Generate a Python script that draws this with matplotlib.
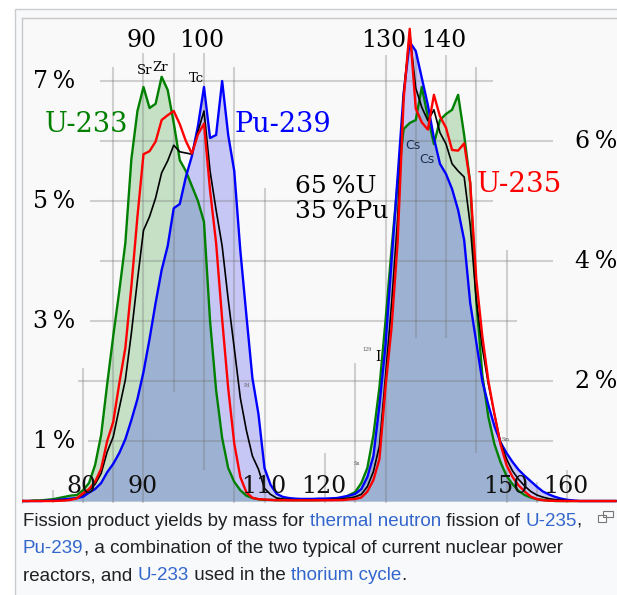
import numpy as np
import matplotlib.pyplot as plt
from matplotlib.patches import Rectangle

W, H = 617, 595

# mass number of the fission product
mass = np.arange(70, 169)

# yields in %
u233 = [0.0, 0.0, 0.01, 0.01, 0.02, 0.03, 0.05, 0.07, 0.09, 0.1,
        0.18, 0.3, 0.6, 1.1, 1.95, 2.75, 3.5, 4.3, 5.7, 6.5,
        6.9, 6.55, 6.62, 7.07, 6.85, 6.3, 5.68, 5.5, 5.25, 5.0,
        4.65, 3.0, 1.85, 1.05, 0.55, 0.32, 0.18, 0.09, 0.05, 0.03,
        0.02, 0.02, 0.015, 0.015, 0.015, 0.015, 0.015, 0.015, 0.015, 0.015,
        0.02, 0.02, 0.03, 0.05, 0.1, 0.15, 0.3, 0.55, 1.1, 1.9,
        3.0, 4.2, 5.3, 6.2, 6.3, 6.35, 6.9, 6.4, 5.95, 6.35,
        6.45, 6.52, 6.77, 6.1, 5.3, 3.35, 2.1, 1.4, 0.95, 0.65,
        0.42, 0.28, 0.17, 0.1, 0.06, 0.03, 0.02, 0.01, 0.0, 0.0,
        0.0, 0.0, 0.0, 0.0, 0.0, 0.0, 0.0, 0.0, 0.0]
u235 = [0.0, 0.0, 0.0, 0.0, 0.0, 0.001, 0.004, 0.008, 0.02, 0.045,
        0.13, 0.2, 0.32, 0.54, 1.0, 1.32, 1.96, 2.55, 3.58, 4.74,
        5.78, 5.83, 5.99, 6.35, 6.43, 6.5, 6.28, 6.0, 5.79, 6.11,
        6.29, 5.18, 4.3, 3.03, 1.88, 0.96, 0.4, 0.146, 0.054, 0.031,
        0.025, 0.018, 0.013, 0.014, 0.012, 0.011, 0.012, 0.012, 0.012, 0.013,
        0.013, 0.013, 0.015, 0.016, 0.027, 0.034, 0.059, 0.157, 0.35, 0.7,
        1.9, 2.89, 4.31, 6.7, 7.87, 6.54, 6.31, 6.19, 6.77, 6.41,
        6.22, 5.85, 5.84, 5.96, 5.3, 3.7, 2.75, 2.0, 1.45, 0.95,
        0.6, 0.4, 0.26, 0.16, 0.074, 0.033, 0.014, 0.006, 0.003, 0.001,
        0.0, 0.0, 0.0, 0.0, 0.0, 0.0, 0.0, 0.0, 0.0]
pu239 = [0.0, 0.0, 0.0, 0.0, 0.005, 0.01, 0.02, 0.03, 0.04, 0.05,
         0.07, 0.14, 0.2, 0.3, 0.48, 0.62, 0.8, 1.03, 1.35, 1.7,
         2.15, 2.7, 3.3, 3.85, 4.25, 4.88, 4.95, 5.4, 5.75, 6.25,
         6.9, 6.05, 6.1, 7.0, 6.1, 5.5, 4.18, 3.1, 2.05, 1.45,
         0.55, 0.27, 0.12, 0.07, 0.05, 0.04, 0.035, 0.035, 0.035, 0.04,
         0.04, 0.045, 0.05, 0.07, 0.09, 0.12, 0.2, 0.4, 0.75, 1.6,
         2.6, 4.0, 5.4, 6.8, 7.65, 7.5, 7.05, 6.6, 6.05, 5.62,
         5.45, 5.2, 4.85, 4.35, 3.3, 2.65, 2.0, 1.6, 1.25, 0.98,
         0.8, 0.65, 0.52, 0.42, 0.33, 0.24, 0.16, 0.11, 0.07, 0.04,
         0.02, 0.01, 0.0, 0.0, 0.0, 0.0, 0.0, 0.0, 0.0]
mix = [0.0, 0.0, 0.0, 0.0, 0.002, 0.004, 0.01, 0.016, 0.027, 0.047,
       0.11, 0.18, 0.28, 0.46, 0.82, 1.07, 1.55, 2.02, 2.8, 3.68,
       4.51, 4.74, 5.05, 5.47, 5.67, 5.93, 5.82, 5.8, 5.78, 6.16,
       6.5, 5.5, 4.85, 4.25, 3.36, 2.55, 1.72, 1.18, 0.75, 0.53,
       0.21, 0.11, 0.05, 0.035, 0.025, 0.02, 0.02, 0.02, 0.02, 0.02,
       0.02, 0.025, 0.03, 0.035, 0.05, 0.07, 0.11, 0.24, 0.49, 0.92,
       2.08, 3.28, 4.69, 6.8, 7.8, 6.88, 6.56, 6.34, 6.52, 6.14,
       5.95, 5.62, 5.5, 5.4, 4.6, 3.35, 2.55, 1.95, 1.45, 0.98,
       0.7, 0.5, 0.36, 0.25, 0.16, 0.1, 0.065, 0.04, 0.025, 0.015,
       0.007, 0.003, 0.0, 0.0, 0.0, 0.0, 0.0, 0.0, 0.0]

top_ticks = [90, 100, 130, 140]
bottom_ticks = [80, 90, 110, 120, 150, 160]
left_ticks = [1, 3, 5, 7]
right_ticks = [2, 4, 6]

SERIF = 'DejaVu Serif'
LINK = '#3366cc'
DARK = '#202122'


def fx(px):
    return px / W


def fy(py):
    return 1 - py / H


fig = plt.figure(figsize=(W / 100, H / 100), dpi=100)
fig.patch.set_facecolor('white')

# thumbnail box
fig.add_artist(Rectangle((fx(14.5), -0.02), 1.0, fy(9.5) + 0.02,
                         transform=fig.transFigure, facecolor='#f8f9fa',
                         edgecolor='#c8ccd1', lw=1.0, zorder=0))

ax = fig.add_axes([fx(22), fy(503), fx(617) - fx(22), fy(18) - fy(503)])
ax.set_xlim(69.92, 168.26)
ax.set_ylim(-0.033, 8.05)
ax.set_facecolor('#f9f9f9')
ax.set_xticks([])
ax.set_yticks([])
for side in ['right', 'bottom']:
    ax.spines[side].set_visible(False)
for side in ['left', 'top']:
    ax.spines[side].set_color('#c8c8c8')
    ax.spines[side].set_linewidth(1.0)

# fills: U-233 only, Pu-239 only, both
g = np.array(u233)
b = np.array(pu239)
fine = np.linspace(mass[0], mass[-1], 5000)
gi = np.interp(fine, mass, g)
bi = np.interp(fine, mass, b)
ax.fill_between(mass, 0, b, color='#c7c7f6', lw=0, zorder=1)
ax.fill_between(mass, 0, g, color='#c6e0c6', lw=0, zorder=1)
ax.fill_between(fine, 0, np.minimum(gi, bi), color='#9db2d2', lw=0, zorder=1)

# partial grid lines as in the original drawing
hgrid = [(7, 82.8, 147.8), (6, 82.8, 157.7), (5, 81.2, 147.8), (4, 82.8, 157.7),
         (3, 81.2, 151.7), (2, 79.2, 157.7), (1, 80.8, 157.7)]
vgrid = [(75, 0.18), (80, 2.22), (85, 7.23), (90, 7.47), (105, 7.23),
         (110, 5.22), (120, 0.8), (125, 2.3), (130, 7.43),
         (150, 4.18), (155, 0.32), (160, 0.52)]
vgrid_short = [(95, 7.47, 1.82), (100, 7.47, 0.52), (135, 7.43, 2.72),
               (140, 7.43, 2.72), (145, 7.23, 0.8)]
for y, x0, x1 in hgrid:
    ax.hlines(y, x0, x1, color='#707070', alpha=0.3, lw=1.5, zorder=2)
for x, y1 in vgrid:
    ax.vlines(x, -0.05, y1, color='#707070', alpha=0.3, lw=1.5, zorder=2)
for x, y1, y0 in vgrid_short:
    ax.vlines(x, y0, y1, color='#707070', alpha=0.3, lw=1.5, zorder=2)

# curves
ax.plot(mass, u233, color='#008000', lw=1.7, zorder=3)
ax.plot(mass, pu239, color='#0000ff', lw=1.7, zorder=3)
ax.plot(mass, mix, color='black', lw=1.2, zorder=3)
ax.plot(mass, u235, color='#ff0000', lw=1.7, zorder=3)

# axis numbers
for m in top_ticks:
    ax.text(m - 0.3, 7.67, str(m), ha='center', va='center', fontsize=17,
            family=SERIF, zorder=4)
for m in bottom_ticks:
    ax.text(m - 0.2, 0.25, str(m), ha='center', va='center', fontsize=17,
            family=SERIF, zorder=4, color='#111111')
for v in left_ticks:
    ax.text(78.7, v, f'{v}\u2009%', ha='right', va='center', fontsize=17,
            family=SERIF, zorder=4)
for v in right_ticks:
    ax.text(161.3, v, f'{v}\u2009%', ha='left', va='center', fontsize=17,
            family=SERIF, zorder=4)

# series names
ax.text(80.5, 6.28, 'U-233', color='#008000', ha='center', va='center',
        fontsize=19.5, family=SERIF, zorder=4)
ax.text(105.1, 6.27, 'Pu-239', color='#0000ff', ha='left', va='center',
        fontsize=19.5, family=SERIF, zorder=4)
ax.text(115.0, 5.25, '65\u2009%U', color='black', ha='left', va='center',
        fontsize=18, family=SERIF, zorder=4)
ax.text(115.0, 4.82, '35\u2009%Pu', color='black', ha='left', va='center',
        fontsize=18, family=SERIF, zorder=4)
ax.text(152.2, 5.28, 'U-235', color='#ff0000', ha='center', va='center',
        fontsize=20, family=SERIF, zorder=4)

# element marks
for x, y, s in [(90.25, 7.18, 'Sr'), (92.7, 7.23, 'Zr'), (98.7, 7.05, 'Tc')]:
    ax.text(x, y, s, ha='center', va='center', fontsize=9.5, family=SERIF,
            zorder=4)
for x, y in [(134.5, 5.92), (136.9, 5.7)]:
    ax.text(x, y, 'Cs', ha='center', va='center', fontsize=9,
            family='DejaVu Sans', color='#1d2d50', zorder=4)
ax.text(128.8, 2.4, 'I', ha='center', va='center', fontsize=10, family=SERIF,
        zorder=4)
ax.text(127.0, 2.52, '129', ha='center', va='center', fontsize=3.5,
        family=SERIF, color='#555555', zorder=4)
for x, y, s in [(149.8, 1.02, 'Sm'), (125.3, 0.63, 'Sn'), (107.1, 1.93, 'Pd')]:
    ax.text(x, y, s, ha='center', va='center', fontsize=3.5, family=SERIF,
            color='#666666', zorder=4)

# caption with link-coloured pieces
caption = [
    [('Fission product yields by mass for ', DARK), ('thermal neutron', LINK),
     (' fission of ', DARK), ('U-235', LINK), (',', DARK)],
    [('Pu-239', LINK), (', a combination of the two typical of current nuclear power', DARK)],
    [('reactors, and ', DARK), ('U-233', LINK), (' used in the ', DARK),
     ('thorium cycle', LINK), ('.', DARK)],
]
cap_font = dict(fontsize=13.5, family='Liberation Sans')
renderer = fig.canvas.get_renderer()


def text_width(s):
    t = fig.text(0, 0, s + '|', **cap_font)
    w = t.get_window_extent(renderer).width
    t.remove()
    t = fig.text(0, 0, '|', **cap_font)
    w -= t.get_window_extent(renderer).width
    t.remove()
    return w


for i, line in enumerate(caption):
    y = 521 + i * 27.5
    prefix = ''
    for piece, col in line:
        x = 23 + text_width(prefix) if prefix else 23
        fig.text(fx(x), fy(y), piece, color=col, va='center', ha='left', **cap_font)
        prefix += piece

# enlarge icon
fig.add_artist(Rectangle((fx(598), fy(522)), fx(8), 7 / H, transform=fig.transFigure,
                         facecolor='white', edgecolor='#777777', lw=0.8))
fig.add_artist(Rectangle((fx(603), fy(517)), fx(10), 6 / H, transform=fig.transFigure,
                         facecolor='none', edgecolor='#777777', lw=0.8))

fig.savefig('out.png', dpi=100)
